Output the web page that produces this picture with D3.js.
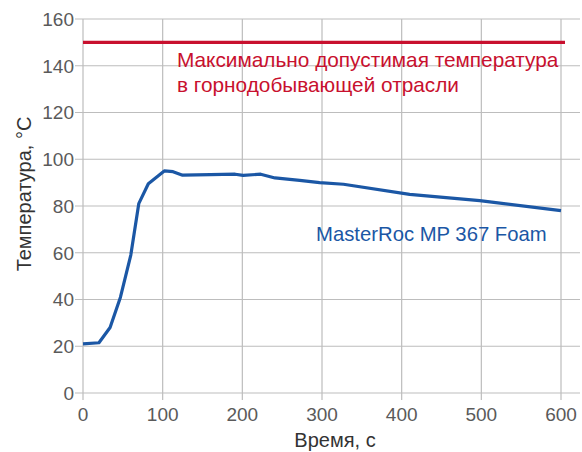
<!DOCTYPE html>
<html><head><meta charset="utf-8">
<script src="https://cdn.jsdelivr.net/npm/d3@7"></script>
<style>body{margin:0;background:#fff}svg{display:block}</style>
</head><body>
<svg id="c" width="582" height="452"></svg>
<script>
const timeSec = [0, 20, 34, 47, 60, 70, 82, 102, 113, 125, 160, 191, 201, 223, 241, 272, 297, 327, 410, 498, 600];
const tempC   = [21, 21.5, 28, 41, 59, 81, 89.5, 95, 94.7, 93.2, 93.4, 93.6, 93.1, 93.6, 92, 91, 90, 89.3, 85, 82.3, 78];
const maxLimit = [150];
const xTicks = [0, 100, 200, 300, 400, 500, 600];
const yTicks = [0, 20, 40, 60, 80, 100, 120, 140, 160];
const limitLabel = ["Максимально допустимая температура", "в горнодобывающей отрасли"];
const seriesLabel = "MasterRoc MP 367 Foam";
const xTitle = "Время, с";
const yTitle = "Температура, °C";

const svg = d3.select("#c");
const font = "'Liberation Sans', Arial, Helvetica, sans-serif";
const x = d3.scaleLinear().domain([0, 600]).range([83, 561]);
const y = d3.scaleLinear().domain([0, 160]).range([393, 19]);
const gridRight = 580;

// horizontal grid
svg.append("g").selectAll("line").data(yTicks).join("line")
  .attr("x1", x(0) - 8).attr("x2", gridRight)
  .attr("y1", d => y(d)).attr("y2", d => y(d))
  .attr("stroke", "#bdbdbd").attr("stroke-width", 1.2);
// vertical grid
svg.append("g").selectAll("line").data(xTicks).join("line")
  .attr("x1", d => x(d)).attr("x2", d => x(d))
  .attr("y1", y(160)).attr("y2", y(0) + 7)
  .attr("stroke", "#bdbdbd").attr("stroke-width", 1.2);

// y tick labels
svg.append("g").selectAll("text").data(yTicks).join("text")
  .attr("x", x(0) - 9).attr("y", d => y(d)).attr("dy", "0.36em")
  .attr("text-anchor", "end").attr("font-family", font).attr("font-size", 19)
  .attr("fill", "#5a5a5a").text(d => d);
// x tick labels
svg.append("g").selectAll("text").data(xTicks).join("text")
  .attr("x", d => x(d)).attr("y", y(0) + 28)
  .attr("text-anchor", "middle").attr("font-family", font).attr("font-size", 19)
  .attr("fill", "#5a5a5a").text(d => d);

// limit line
svg.selectAll(".lim").data(maxLimit).join("line").attr("class", "lim")
  .attr("x1", x(0)).attr("x2", 565)
  .attr("y1", d => y(d)).attr("y2", d => y(d))
  .attr("stroke", "#c8102e").attr("stroke-width", 3.2);

svg.append("text").attr("font-family", font).attr("font-size", 20.8).attr("fill", "#c8102e")
  .selectAll("tspan").data(limitLabel).join("tspan")
  .attr("x", 177).attr("y", (d, i) => 67 + i * 25).text(d => d);

// series line
const pts = timeSec.map((t, i) => [t, tempC[i]]);
svg.append("path").datum(pts)
  .attr("d", d3.line().x(d => x(d[0])).y(d => y(d[1])))
  .attr("fill", "none").attr("stroke", "#1b57a5").attr("stroke-width", 3.2)
  .attr("stroke-linejoin", "round");

svg.append("text").attr("x", 316).attr("y", 241)
  .attr("font-family", font).attr("font-size", 20.3).attr("fill", "#1b57a5").text(seriesLabel);

// axis titles
svg.append("text").attr("x", 335).attr("y", 447).attr("text-anchor", "middle")
  .attr("font-family", font).attr("font-size", 20).attr("fill", "#333").text(xTitle);
svg.append("text").attr("transform", `translate(31,194) rotate(-90)`)
  .attr("text-anchor", "middle").attr("font-family", font).attr("font-size", 20)
  .attr("fill", "#333").text(yTitle);
</script>
</body></html>
